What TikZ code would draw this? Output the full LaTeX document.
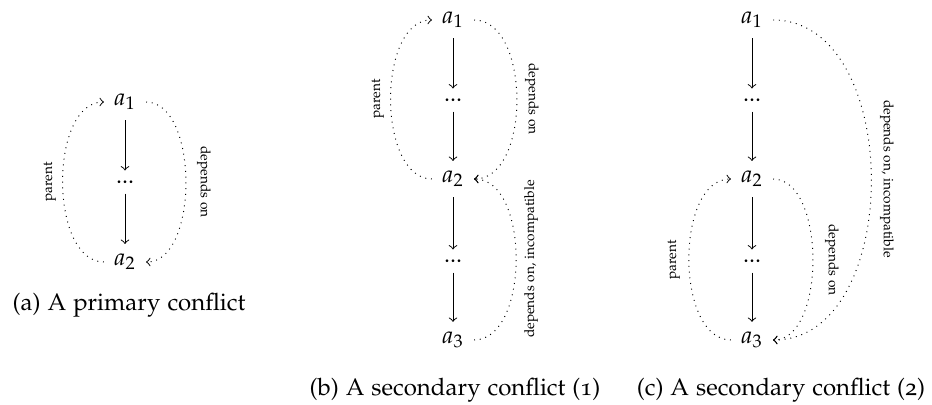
\documentclass[tikz,border=0pt]{standalone}
\usepackage[T1]{fontenc}
\usepackage[osf]{mathpazo}
\begin{document}
\begin{tikzpicture}[x=0.41667pt,y=-0.41667pt,
  act/.style={inner sep=4pt},
  gap/.style={inner sep=4pt},
  seq/.style={->, line width=0.4pt},
  rel/.style={->, line width=0.4pt, dotted},
  lbl/.style={font=\fontsize{5.7}{7}\selectfont, inner sep=0pt},
  captext/.style={font=\normalsize, inner sep=0pt, anchor=base}]
\useasboundingbox (0,0) rectangle (932,405);

% (a) primary conflict
\node[act] (a1) at (125,102) {$a_1$};
\node[gap] (ad) at (125,182) {...};
\node[act] (a2) at (125,262) {$a_2$};
\draw[seq] (a1) -- (ad);
\draw[seq] (ad) -- (a2);
\draw[rel] (a2.west) .. controls +(-55,0) and +(-55,0) .. (a1.west);
\draw[rel] (a1.east) .. controls +(53,0) and +(53,0) .. (a2.east);
\node[lbl, rotate=90] (ap) at (50,182) {parent};
\node[lbl, rotate=-90] (adep) at (204,182) {depends on};
\node[captext] (capa) at (129,311) {(a) A primary conflict};

% (b) secondary conflict (1)
\node[act] (b1) at (453,20) {$a_1$};
\node[gap] (bd1) at (453,100) {...};
\node[act] (b2) at (453,179) {$a_2$};
\node[gap] (bd2) at (453,261) {...};
\node[act] (b3) at (453,340) {$a_3$};
\draw[seq] (b1) -- (bd1);
\draw[seq] (bd1) -- (b2);
\draw[seq] (b2) -- (bd2);
\draw[seq] (bd2) -- (b3);
\draw[rel] (b2.west) .. controls +(-55,0) and +(-55,0) .. (b1.west);
\draw[rel] (b1.east) .. controls +(57,0) and +(57,0) .. (b2.east);
\draw[rel] (b3.east) .. controls +(56,0) and +(56,0) .. (b2.east);
\node[lbl, rotate=90] (bp) at (378,99) {parent};
\node[lbl, rotate=-90] (bdep) at (532,99) {depends on};
\node[lbl, rotate=90] (binc) at (531,259) {depends on, incompatible};
\node[captext] (capb) at (455,396) {(b) A secondary conflict (1)};

% (c) secondary conflict (2)
\node[act] (c1) at (752,20) {$a_1$};
\node[gap] (cd1) at (752,100) {...};
\node[act] (c2) at (752,179) {$a_2$};
\node[gap] (cd2) at (752,261) {...};
\node[act] (c3) at (752,340) {$a_3$};
\draw[seq] (c1) -- (cd1);
\draw[seq] (cd1) -- (c2);
\draw[seq] (c2) -- (cd2);
\draw[seq] (cd2) -- (c3);
\draw[rel] (c3.west) .. controls +(-56,0) and +(-56,0) .. (c2.west);
\draw[rel] (c2.east) .. controls +(53,0) and +(53,0) .. (c3.east);
\draw[rel] (c1.east) .. controls +(131,0) and +(131,0) .. (c3.east);
\node[lbl, rotate=90] (cp) at (674,260) {parent};
\node[lbl, rotate=-90] (cdep) at (832,260) {depends on};
\node[lbl, rotate=-90] (cinc) at (887,179) {depends on, incompatible};
\node[captext] (capc) at (781,396) {(c) A secondary conflict (2)};
\end{tikzpicture}
\end{document}
